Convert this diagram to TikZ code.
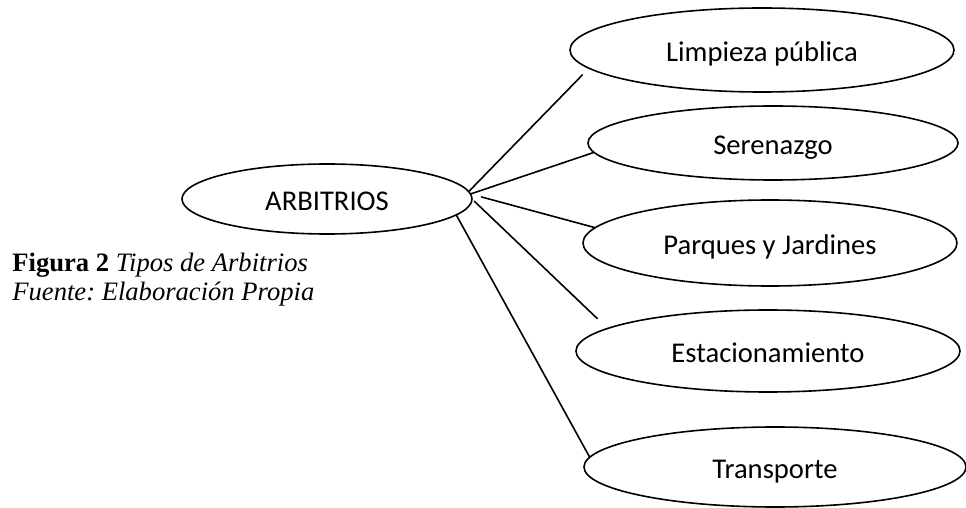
\documentclass[tikz,border=0pt]{standalone}
\usepackage{fontspec}
\setmainfont{Liberation Serif}
\newfontfamily\calibri{Carlito}
\usetikzlibrary{shapes.geometric}
\frenchspacing

\begin{document}
\begin{tikzpicture}[x=0.5pt, y=-0.5pt,
    tipo/.style={draw, ellipse, line width=0.8pt, inner sep=0pt, outer sep=0pt,
      font=\calibri\fontsize{14.3}{16}\selectfont, text height=12pt, text depth=0pt},
    enlace/.style={line width=0.8pt},
    leyenda/.style={anchor=base west, inner sep=0pt, font=\fontsize{13.3}{14}\selectfont}]
  \useasboundingbox (0,0) rectangle (966,508);

  \node[tipo, minimum width=145pt, minimum height=35pt] (arb) at (327,199) {ARBITRIOS};

  \node[tipo, minimum width=192pt, minimum height=42pt] (limp) at (762,50) {Limpieza pública};
  \node[tipo, minimum width=185pt, minimum height=37pt] (sere) at (773,143) {Serenazgo};
  \node[tipo, minimum width=187pt, minimum height=43pt] (park) at (770,243) {Parques y Jardines};
  \node[tipo, minimum width=192pt, minimum height=41pt] (est) at (768,351) {Estacionamiento};
  \node[tipo, minimum width=191pt, minimum height=40pt] (trans) at (775,467) {Transporte};

  \draw[enlace, shorten >=4.5pt] (arb.3) -- (limp.186);
  \draw[enlace] (arb.2) -- (sere.183);
  \draw[enlace, shorten <=5.5pt] (arb.2) -- (park.175);
  \draw[enlace, shorten <=1.5pt, shorten >=7pt] (arb.0) -- (est.172);
  \draw[enlace] (arb.353) -- (trans.177);

  \node[leyenda] (fig) at (12,272) {\textbf{Figura 2} \textit{Tipos de Arbitrios}};
  \node[leyenda] (src) at (12,300) {\textit{Fuente: Elaboración Propia}};
\end{tikzpicture}
\end{document}
